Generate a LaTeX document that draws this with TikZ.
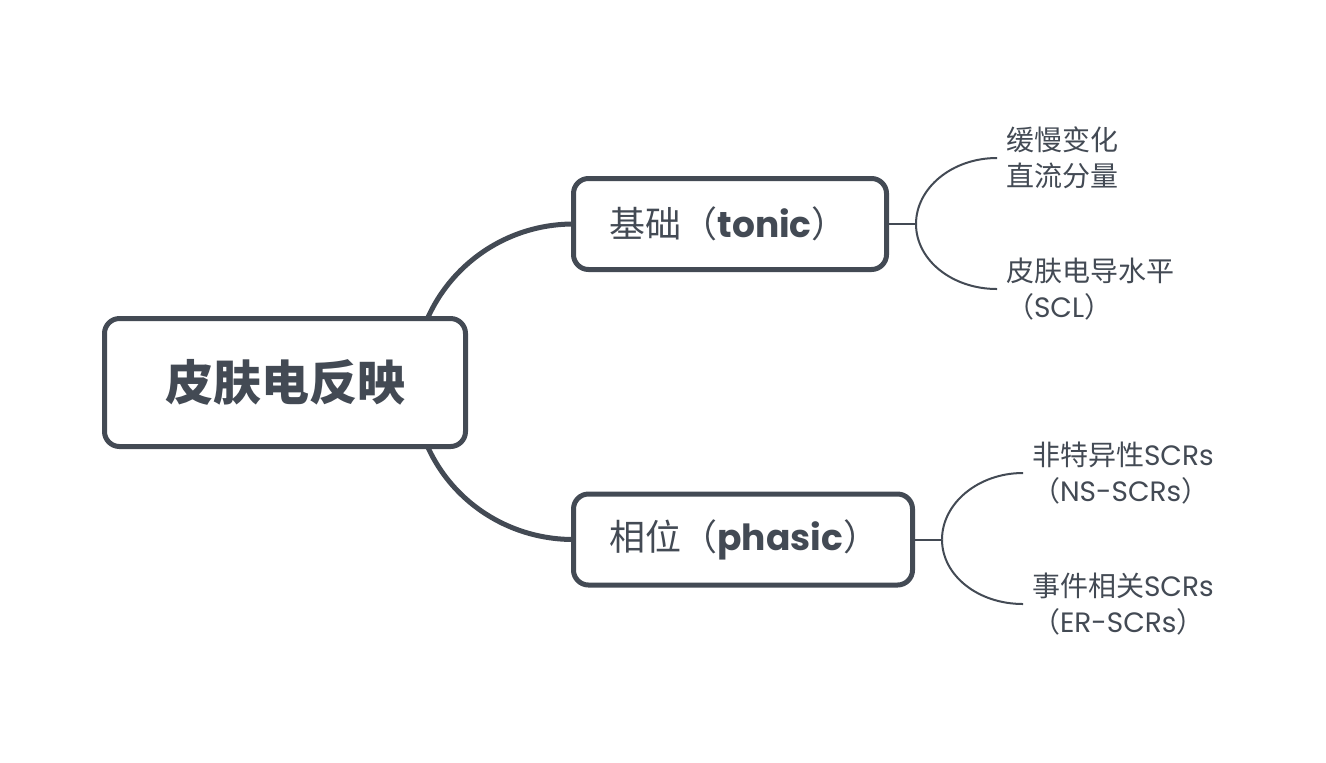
\documentclass[tikz,border=0pt]{standalone}
\usepackage{fontspec}
\newfontfamily\cjk{Noto Sans CJK SC}
\newfontfamily\lat{Poppins}
\definecolor{ink}{HTML}{434A54}
\pgfdeclarelayer{bg}
\pgfsetlayers{bg,main}
\begin{document}
\begin{tikzpicture}[x=0.5pt,y=-0.5pt,
  mainbox/.style={draw=ink, line width=2.5pt, rounded corners=7.5pt, fill=white, text=ink, outer sep=0pt},
  midbox/.style={mainbox, inner xsep=18pt, inner ysep=0pt, minimum height=45.5pt, align=left,
    font=\cjk\fontsize{18}{22}\selectfont},
  leaf/.style={anchor=west, text=ink, align=left, inner xsep=4.5pt, inner ysep=0pt, outer sep=0pt,
    font=\cjk\fontsize{14}{18}\selectfont},
  trunk/.style={draw=ink, line width=2.5pt},
  twig/.style={draw=ink, line width=1pt}]
\useasboundingbox (0,0) rectangle (1326,762);

\node[mainbox, minimum width=180.5pt, minimum height=64pt, inner sep=0pt,
  font=\cjk\bfseries\fontsize{24}{28}\selectfont] (root) at (285,382.5) {皮肤电反映};
\node[midbox, text width=120.5pt] (tonic) at (730,224) {基础（{\lat\bfseries tonic}）};
\node[midbox, text width=133.5pt] (phasic) at (743,539.5) {相位（{\lat\bfseries phasic}）};

\coordinate (rj) at (414,382.5);
\coordinate (tj) at (916,224);
\coordinate (pj) at (942,539.5);

\node[leaf] (a1) at (997,158) {缓慢变化\\直流分量};
\node[leaf] (a2) at (997,289) {皮肤电导水平\\（{\lat SCL}）};
\node[leaf] (b1) at (1023,473) {非特异性{\lat SCRs}\\（{\lat NS-SCRs}）};
\node[leaf] (b2) at (1023,604) {事件相关{\lat SCRs}\\（{\lat ER-SCRs}）};

\begin{pgfonlayer}{bg}
\draw[trunk] (rj) .. controls +(0,-88) and +(-88,0) .. (tonic.west);
\draw[trunk] (rj) .. controls +(0,88) and +(-88,0) .. (phasic.west);
\end{pgfonlayer}

\draw[twig] (tonic.east) -- (tj);
\draw[twig] (tj) .. controls +(0,-36) and +(-45,0) .. (a1.west);
\draw[twig] (tj) .. controls +(0,36) and +(-45,0) .. (a2.west);
\draw[twig] (phasic.east) -- (pj);
\draw[twig] (pj) .. controls +(0,-36) and +(-45,0) .. (b1.west);
\draw[twig] (pj) .. controls +(0,36) and +(-45,0) .. (b2.west);
\end{tikzpicture}
\end{document}
